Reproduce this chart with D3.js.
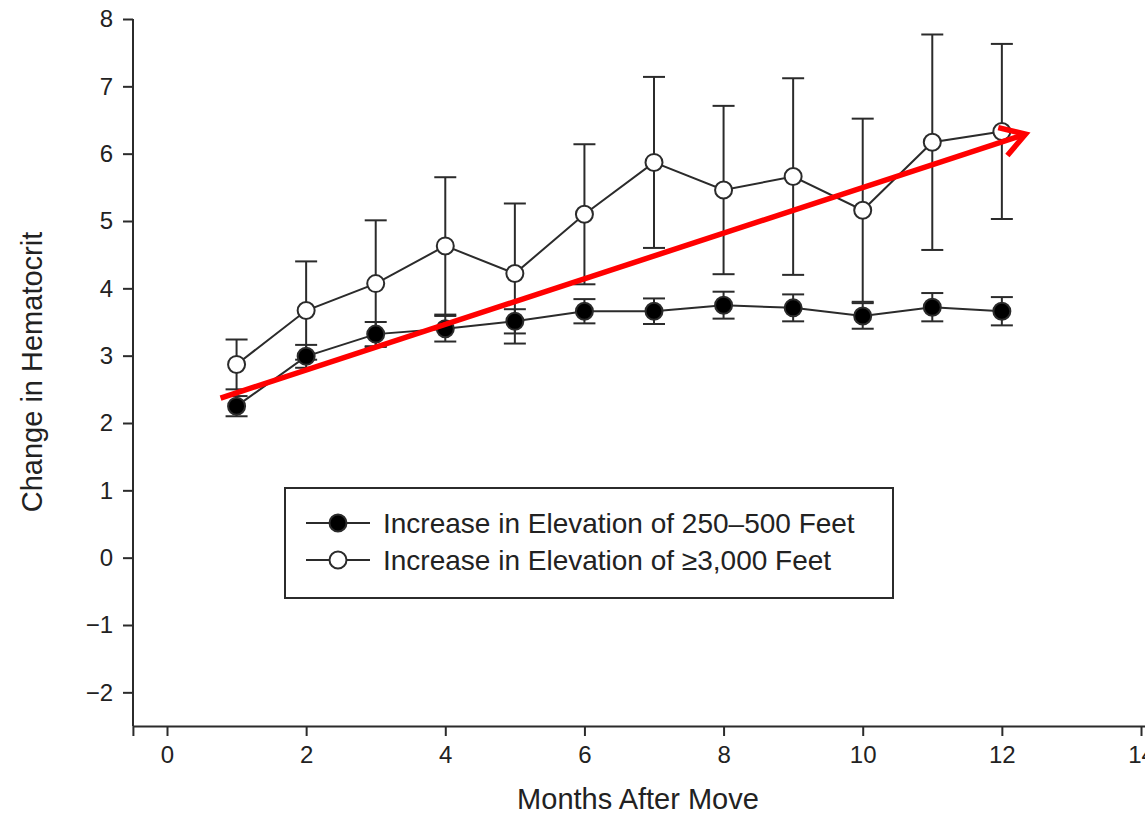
<!DOCTYPE html>
<html>
<head>
<meta charset="utf-8">
<script src="https://cdn.jsdelivr.net/npm/d3@7"></script>
<style>
  html, body { margin: 0; padding: 0; background: #fff; }
  svg { display: block; }
  text { font-family: "Liberation Sans", Arial, sans-serif; fill: #222; }
</style>
</head>
<body>
<svg id="chart" width="1145" height="815"></svg>
<script>
// ---- data ----
const months = [1, 2, 3, 4, 5, 6, 7, 8, 9, 10, 11, 12];
const lowMean = [2.25, 2.99, 3.32, 3.40, 3.51, 3.66, 3.66, 3.75, 3.71, 3.59, 3.72, 3.66];
const lowErr  = [0.15, 0.17, 0.18, 0.19, 0.18, 0.18, 0.19, 0.20, 0.20, 0.19, 0.21, 0.21];
const highMean = [2.87, 3.67, 4.07, 4.63, 4.22, 5.10, 5.87, 5.46, 5.66, 5.16, 6.17, 6.33];
const highErr  = [0.37, 0.73, 0.94, 1.02, 1.04, 1.04, 1.27, 1.25, 1.46, 1.36, 1.60, 1.30];
const xTicks = [0, 2, 4, 6, 8, 10, 12, 14];
const yTicks = [-2, -1, 0, 1, 2, 3, 4, 5, 6, 7, 8];
const seriesNames = ["Increase in Elevation of 250\u2013500 Feet", "Increase in Elevation of \u22653,000 Feet"];
const arrowStart = [0.77, 2.37];
const arrowEnd = [12.34, 6.29];

// ---- scales ----
const x = d3.scaleLinear().domain([0, 14]).range([167, 1141]);
const y = d3.scaleLinear().domain([-2.5, 8]).range([726, 19]);

const svg = d3.select("#chart");
const ink = "#2b2b2b";

// axes
const xAxisScale = x.copy().domain([-0.49, 14.6]).range([x(-0.49), x(14.6)]);
const gx = svg.append("g").attr("transform", "translate(0,726)")
  .call(d3.axisBottom(xAxisScale).tickValues(xTicks).tickSizeOuter(0).tickSize(10).tickPadding(10).tickFormat(d3.format("d")));
const gy = svg.append("g").attr("transform", "translate(133,0)")
  .call(d3.axisLeft(y).tickValues(yTicks).tickSizeOuter(0).tickSize(10).tickPadding(10)
    .tickFormat(d => d < 0 ? "\u2212" + Math.abs(d) : d));
[gx, gy].forEach(g => {
  g.attr("font-size", 24).attr("font-family", "'Liberation Sans', Arial, sans-serif");
  g.select(".domain").attr("stroke", ink).attr("stroke-width", 2);
  g.selectAll(".tick line").attr("stroke", ink).attr("stroke-width", 2);
  g.selectAll(".tick text").attr("font-size", 24).style("font-size", "24px").attr("fill", "#222");
});
gy.select(".domain").attr("d", `M0,${y(-2.5)}V${y(8)}`);

// axis titles
svg.append("text").attr("x", 638).attr("y", 809).attr("text-anchor", "middle")
  .attr("font-size", 29).text("Months After Move");
svg.append("text").attr("transform", "translate(42,372) rotate(-90)").attr("text-anchor", "middle")
  .attr("font-size", 29).text("Change in Hematocrit");

// series
const series = [
  { mean: lowMean, err: lowErr, fill: "#000" },
  { mean: highMean, err: highErr, fill: "#fff" }
];
const line = d3.line().x(d => x(d[0])).y(d => y(d[1]));
const capHalf = 11;

[1, 0].forEach(si => {
  const s = series[si];
  const g = svg.append("g");
  const pts = months.map((m, i) => [m, s.mean[i], s.err[i]]);
  pts.forEach(p => {
    const cx = x(p[0]);
    g.append("line").attr("x1", cx).attr("x2", cx).attr("y1", y(p[1] - p[2])).attr("y2", y(p[1] + p[2]))
      .attr("stroke", ink).attr("stroke-width", 2);
    [p[1] - p[2], p[1] + p[2]].forEach(v => {
      g.append("line").attr("x1", cx - capHalf).attr("x2", cx + capHalf).attr("y1", y(v)).attr("y2", y(v))
        .attr("stroke", ink).attr("stroke-width", 2);
    });
  });
  g.append("path").datum(pts).attr("d", line).attr("fill", "none").attr("stroke", ink).attr("stroke-width", 2);
  g.selectAll("circle").data(pts).join("circle")
    .attr("cx", d => x(d[0])).attr("cy", d => y(d[1])).attr("r", 8.5)
    .attr("fill", s.fill).attr("stroke", ink).attr("stroke-width", 2);
});

// legend
const lg = svg.append("g");
lg.append("rect").attr("x", 285).attr("y", 488).attr("width", 608).attr("height", 110)
  .attr("fill", "#fff").attr("stroke", ink).attr("stroke-width", 2);
seriesNames.forEach((name, i) => {
  const ly = 523 + i * 37;
  lg.append("line").attr("x1", 306).attr("x2", 370).attr("y1", ly).attr("y2", ly)
    .attr("stroke", ink).attr("stroke-width", 2);
  lg.append("circle").attr("cx", 338).attr("cy", ly).attr("r", 8.5)
    .attr("fill", series[i].fill).attr("stroke", ink).attr("stroke-width", 2);
  lg.append("text").attr("x", 383).attr("y", ly + 10).attr("font-size", 28).text(name);
});

// red arrow
const ax1 = x(arrowStart[0]), ay1 = y(arrowStart[1]);
const ax2 = x(arrowEnd[0]), ay2 = y(arrowEnd[1]);
const ang = Math.atan2(ay2 - ay1, ax2 - ax1);
svg.append("line").attr("x1", ax1).attr("y1", ay1).attr("x2", ax2 - 3 * Math.cos(ang)).attr("y2", ay2 - 3 * Math.sin(ang))
  .attr("stroke", "#ff0000").attr("stroke-width", 5.5);
const headLen = 28, headAng = 0.55;
const headPts = [
  [ax2 - headLen * Math.cos(ang - headAng), ay2 - headLen * Math.sin(ang - headAng)],
  [ax2, ay2],
  [ax2 - headLen * Math.cos(ang + headAng), ay2 - headLen * Math.sin(ang + headAng)]
];
svg.append("path").attr("d", d3.line()(headPts)).attr("fill", "none")
  .attr("stroke", "#ff0000").attr("stroke-width", 5.5).attr("stroke-linejoin", "miter").attr("stroke-linecap", "butt");
</script>
</body>
</html>
